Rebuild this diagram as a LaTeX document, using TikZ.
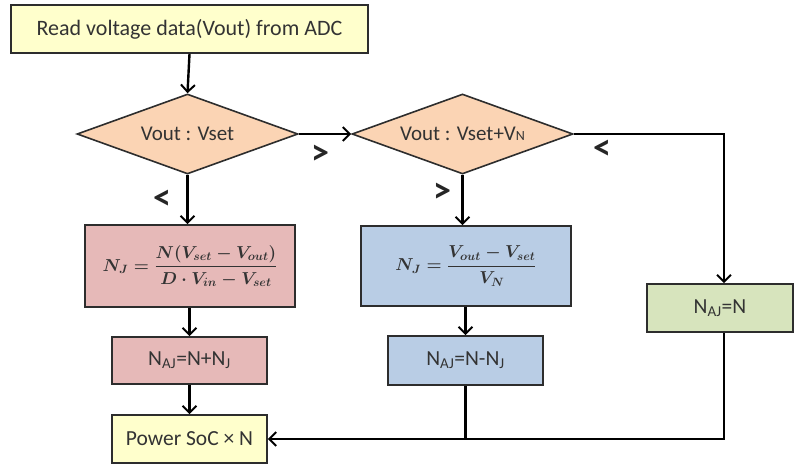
\documentclass[tikz,border=0pt]{standalone}
\usepackage{fontspec}
\usepackage{amsmath}
\setmainfont{Carlito}
\usetikzlibrary{shapes.geometric,arrows.meta}
\definecolor{ylw}{RGB}{255,255,204}
\definecolor{peach}{RGB}{251,212,180}
\definecolor{rosy}{RGB}{230,185,184}
\definecolor{bluish}{RGB}{185,205,229}
\definecolor{greenish}{RGB}{215,228,189}
\definecolor{edge}{RGB}{45,45,45}
\tikzset{
  box/.style={draw=edge, line width=1.6pt, rectangle, inner sep=0pt, text=black!80},
  dia/.style={draw=edge, line width=1.6pt, diamond, inner sep=0pt, fill=peach, minimum width=221pt, minimum height=80pt, text=black!80},
  conn/.style={line width=2.4pt, -{Straight Barb[length=7pt,width=14pt,line width=2pt]}},
  plain/.style={line width=2.4pt},
  lbl/.style={font=\fontsize{36}{38}\selectfont\bfseries, text=black!85},
  txtA/.style={font=\fontsize{22}{26}\selectfont},
  txtD/.style={font=\fontsize{21}{24}\selectfont},
  txtB/.style={font=\fontsize{21.5}{24}\selectfont},
  txtM/.style={font=\fontsize{17.5}{20}\selectfont\mathversion{bold}},
}
\begin{document}
\begin{tikzpicture}[x=1pt,y=-1pt]
\useasboundingbox (0,0) rectangle (794,466);
\node[box, fill=ylw, minimum width=357pt, minimum height=48pt, txtA] (top) at (189.5,29) {Read voltage data(Vout) from ADC};
\node[dia, txtD] (d1) at (187.5,134) {\makebox[0pt]{Vout : Vset}};
\node[dia, txtD] (d2) at (462.5,134) {\makebox[0pt]{Vout : Vset+V{\fontsize{14}{16}\selectfont N}}};
\node[box, fill=rosy, minimum width=210pt, minimum height=82pt, txtM] (rf) at (190,266) {$\boldsymbol{N_J=\displaystyle\frac{N(V_{set}-V_{out})}{D\cdot V_{in}-V_{set}}}$};
\node[box, fill=bluish, minimum width=210pt, minimum height=80pt, txtM] (bf) at (466,266) {$\boldsymbol{N_J=\displaystyle\frac{V_{out}-V_{set}}{V_N}}$};
\node[box, fill=rosy, minimum width=155pt, minimum height=47pt, txtB] (rn) at (189.5,360.5) {N\textsubscript{AJ}=N+N\textsubscript{J}};
\node[box, fill=bluish, minimum width=155pt, minimum height=49pt, txtB] (bn) at (465.5,360.5) {N\textsubscript{AJ}=N-N\textsubscript{J}};
\node[box, fill=greenish, minimum width=146pt, minimum height=48pt, txtB] (gn) at (720,308) {N\textsubscript{AJ}=N};
\node[box, fill=ylw, minimum width=155pt, minimum height=48pt, txtB] (pw) at (189.5,439) {Power SoC × N};
\coordinate (c1) at (724,134);
\draw[conn] (top.south) -- (d1.north);
\draw[conn] (d1.east) -- (d2.west);
\draw[conn] (d2.east) -- (c1) -- (c1 |- gn.north);
\draw[conn] (d1.south) -- (d1.south |- rf.north);
\draw[conn] (d2.south) -- (d2.south |- bf.north);
\draw[conn] (rf.south -| rn.north) -- (rn.north);
\draw[conn] (rn.south) -- (pw.north);
\draw[conn] (bf.south -| bn.north) -- (bn.north);
\draw[plain] (bn.south) -- (bn.south |- pw.east);
\draw[conn] (gn.south -| c1) |- (pw.east);
\node[lbl] (l1) at (320,155) {>};
\node[lbl] (l2) at (162,200) {<};
\node[lbl] (l3) at (442,193) {>};
\node[lbl] (l4) at (602,150) {<};
\end{tikzpicture}
\end{document}
